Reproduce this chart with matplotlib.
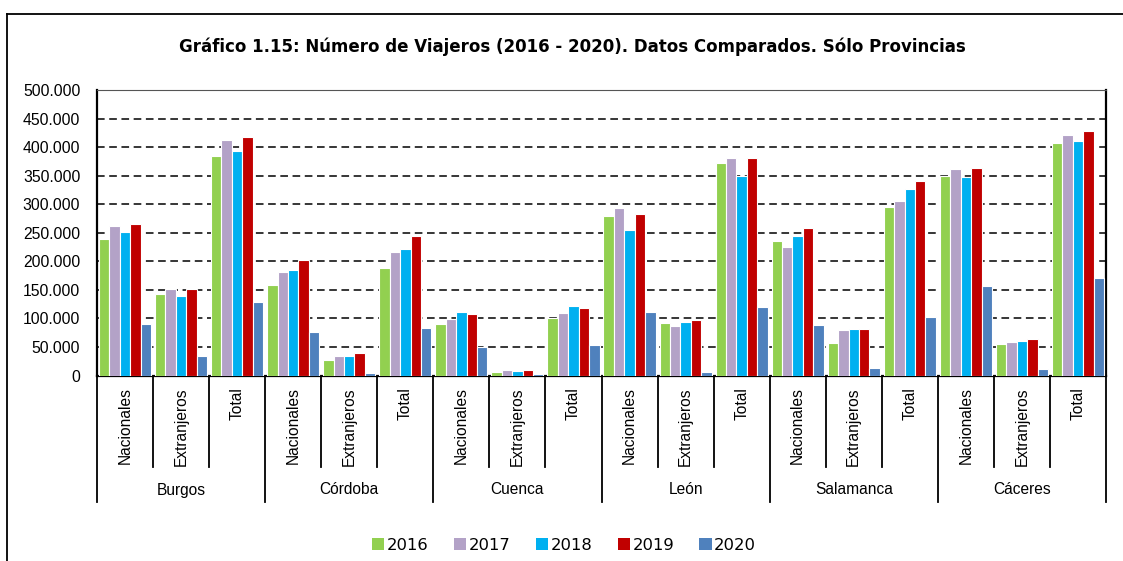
import matplotlib
matplotlib.use("Agg")
import matplotlib.pyplot as plt
from matplotlib.lines import Line2D
from matplotlib.patches import Patch
import numpy as np

provinces = ["Burgos", "Córdoba", "Cuenca", "León", "Salamanca", "Cáceres"]
subcats = ["Nacionales", "Extranjeros", "Total"]
years = ["2016", "2017", "2018", "2019", "2020"]
colors = ["#92D050", "#B3A2C7", "#00B0F0", "#C00000", "#4F81BD"]

# values per category (province x subcat), order: Burgos N,E,T, Córdoba N,E,T, ...
v2016 = [239000, 142500, 384000, 158000, 28000, 189000, 91000, 6400, 100000,
         279000, 91700, 373000, 235000, 57000, 295000, 349000, 55000, 406500]
v2017 = [261000, 151000, 412000, 181000, 34500, 217000, 99000, 8800, 109000,
         294000, 86000, 381000, 225000, 79000, 305000, 362000, 58000, 421600]
v2018 = [252000, 140000, 394000, 184000, 35000, 221000, 112000, 7600, 121500,
         254600, 94000, 350000, 244000, 80600, 326000, 348000, 60000, 410000]
v2019 = [265000, 151000, 418000, 203000, 39000, 243500, 107000, 9300, 118500,
         282700, 97500, 381000, 257500, 81000, 340000, 363000, 64000, 429000]
v2020 = [91000, 35000, 128000, 76500, 5000, 83500, 50000, 2300, 53000,
         111000, 7000, 120000, 87600, 14000, 103000, 156500, 11000, 170000]
series = [v2016, v2017, v2018, v2019, v2020]

W, H = 1123, 561
fig = plt.figure(figsize=(W / 100, H / 100), dpi=100)
ax_l, ax_r, ax_t, ax_b = 97, 1106, 90, 375.5
ax = fig.add_axes([ax_l / W, 1 - ax_b / H, (ax_r - ax_l) / W, (ax_b - ax_t) / H])

n = len(v2016)
x = np.arange(n)
bw = 0.186
for i, (vals, c, yr) in enumerate(zip(series, colors, years)):
    ax.bar(x + (i - 2) * bw, vals, width=bw, color=c, edgecolor="white",
           linewidth=0.8, label=yr, zorder=3)

ax.set_xlim(-0.5, n - 0.5)
ax.set_ylim(0, 500000)
yt = np.arange(0, 500001, 50000)
ax.set_yticks(yt)
ax.set_yticklabels([f"{int(v):,}".replace(",", ".") for v in yt],
                   fontfamily="Liberation Sans", fontsize=11.3)
ax.tick_params(axis="y", length=0, pad=12)
ax.set_xticks([])
ax.yaxis.grid(True, color="black", linestyle=(0, (5, 3)), linewidth=1.1, zorder=0)
ax.set_axisbelow(True)
for s in ["left", "right", "bottom"]:
    ax.spines[s].set_linewidth(1.6)
    ax.spines[s].set_color("black")
ax.spines["top"].set_linewidth(0.8)
ax.spines["top"].set_color("#555555")

# multi-level category axis
trans = ax.get_xaxis_transform()
axh = ax_b - ax_t
def yfrac(py):
    return (ax_b - py) / axh

y_inner_end = yfrac(467)
y_group_end = yfrac(502)
for k in range(n + 1):
    xb = k - 0.5
    is_group = (k % 3 == 0)
    ax.add_line(Line2D([xb, xb], [0, y_group_end if is_group else y_inner_end],
                       transform=trans, color="black", linewidth=1.3,
                       clip_on=False))
for k in range(n):
    ax.text(k, yfrac(387), subcats[k % 3], transform=trans, rotation=90,
            ha="center", va="top", fontfamily="Liberation Sans", fontsize=11.2)
for g, p in enumerate(provinces):
    ax.text(3 * g + 1, yfrac(490), p, transform=trans, ha="center",
            va="center", fontfamily="Liberation Sans", fontsize=11.2)

# title
fig.text(572 / W, 1 - 47 / H,
         "Gráfico 1.15: Número de Viajeros (2016 - 2020). Datos Comparados. Sólo Provincias",
         ha="center", va="center", fontfamily="DejaVu Sans", fontweight="bold",
         fontsize=12.0)

# outer frame
fx = 7 / W
fy = 1 - 14 / H
fig.add_artist(Line2D([fx, fx], [0, fy], transform=fig.transFigure,
                      color="black", linewidth=1.3))
fig.add_artist(Line2D([fx, 1.0], [fy, fy], transform=fig.transFigure,
                      color="black", linewidth=1.3))

# legend
handles = [Patch(facecolor=c, edgecolor="none", label=y) for c, y in zip(colors, years)]
fig.legend(handles=handles, loc="center", bbox_to_anchor=(564 / W, 1 - 545 / H),
           ncol=5, frameon=False, prop={"family": "DejaVu Sans", "size": 11.8},
           handlelength=0.75, handleheight=0.75, handletextpad=0.15,
           columnspacing=1.55)

fig.savefig("out.png", dpi=100)
